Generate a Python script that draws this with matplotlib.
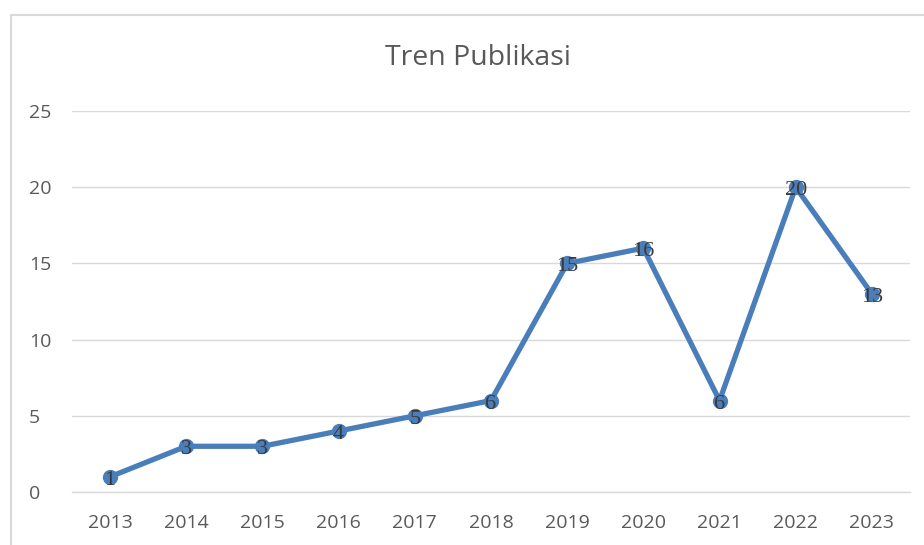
import matplotlib
matplotlib.use("Agg")
import matplotlib.pyplot as plt
from matplotlib.patches import Rectangle

years = ["2013", "2014", "2015", "2016", "2017", "2018", "2019", "2020", "2021", "2022", "2023"]
counts = [1, 3, 3, 4, 5, 6, 15, 16, 6, 20, 13]
yticks = [0, 5, 10, 15, 20, 25]
title = "Tren Publikasi"

plt.rcParams['font.family'] = ['Open Sans', 'DejaVu Sans']

fig = plt.figure(figsize=(9.24, 5.45), dpi=100)
fig.patch.set_facecolor("white")

# chart frame
W, H = 924, 545
fig.patches.append(Rectangle((11 / W, -0.05), 1.2, (545 - 15) / H + 0.05,
                             transform=fig.transFigure, fill=False,
                             edgecolor="#d9d9d9", linewidth=1.5, zorder=0))

ax = fig.add_axes([72 / W, 53 / H, (910 - 72) / W, (492 - 111) / H])
x = list(range(len(years)))
ax.plot(x, counts, color="#4a7ebb", linewidth=3.8, marker="o", markersize=10,
        markerfacecolor="#4a7ebb", markeredgecolor="#4a7ebb", solid_capstyle="round",
        zorder=3)
for xi, v in zip(x, counts):
    ax.annotate(str(v), (xi, v), xytext=(0, -2.5), textcoords="offset points",
                ha="center", va="center", fontsize=16,
                family=["Liberation Serif", "DejaVu Serif"],
                color="#3a3a3a", zorder=4)

ax.set_xlim(-0.5, len(years) - 0.5)
ax.set_ylim(0, 25)
ax.set_yticks(yticks)
ax.set_xticks(x)
ax.set_xticklabels(years)
ax.grid(axis="y", color="#d9d9d9", linewidth=1)
ax.set_axisbelow(True)
for s in ["top", "right", "left"]:
    ax.spines[s].set_visible(False)
ax.spines["bottom"].set_color("#d9d9d9")
ax.spines["bottom"].set_linewidth(1)
ax.tick_params(axis="both", length=0, labelsize=14, labelcolor="#595959")
ax.tick_params(axis="x", pad=16)
ax.tick_params(axis="y", pad=31)
for lbl in ax.get_yticklabels():
    lbl.set_horizontalalignment("left")

fig.text(478 / W, 1 - 58 / H, title, ha="center", va="center", fontsize=20.5,
         color="#595959")

fig.savefig("out.png", dpi=100)
